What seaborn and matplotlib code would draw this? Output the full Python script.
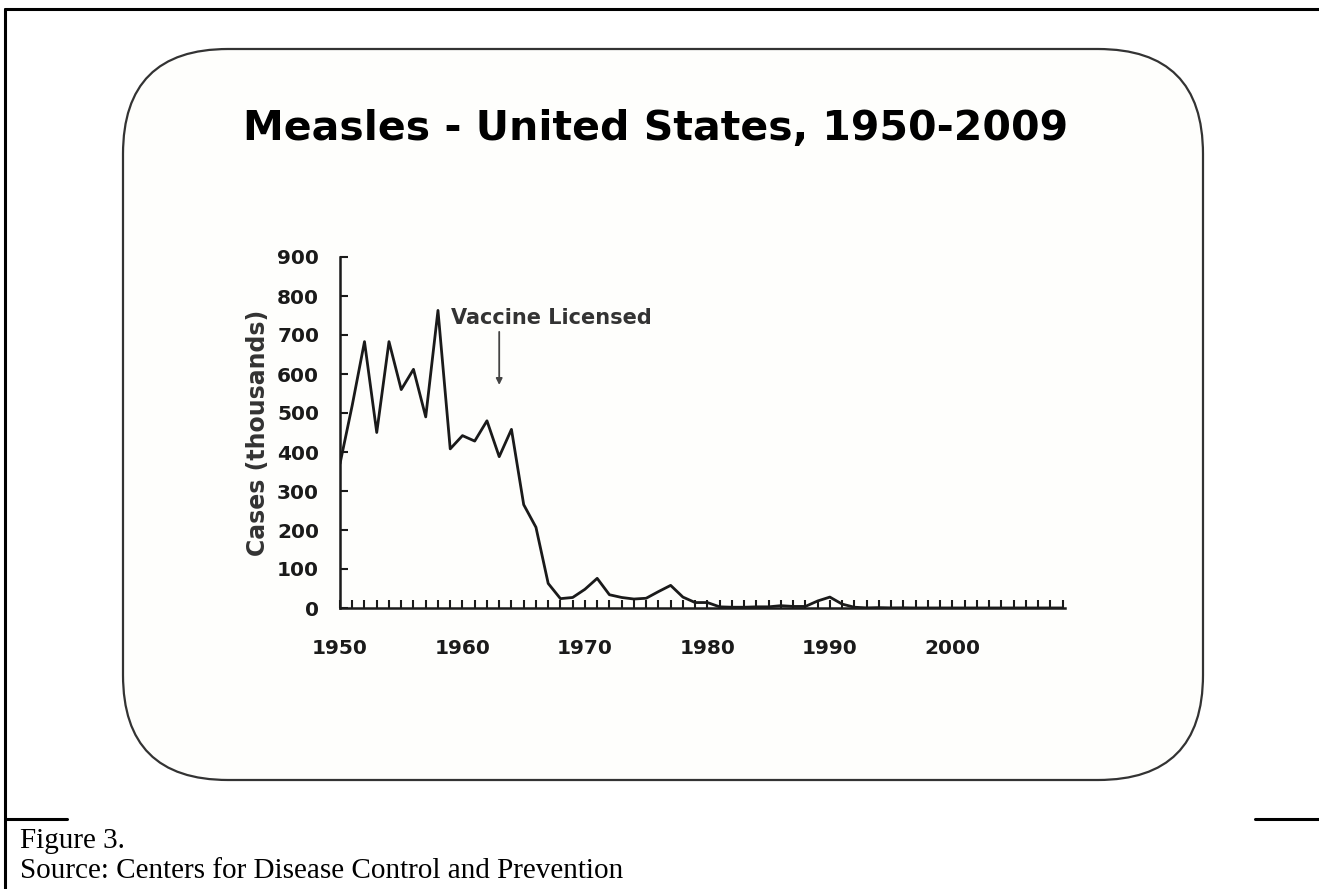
import matplotlib
matplotlib.use("Agg")
import matplotlib.pyplot as plt
import seaborn as sns
import numpy as np
import pandas as pd
from matplotlib.patches import FancyBboxPatch
from matplotlib.lines import Line2D
from matplotlib.ticker import MultipleLocator

# ---- data ----
years = list(range(1950, 2010))
cases_thousands = [
    370, 520, 683, 450, 683, 560, 612, 490, 763, 408,
    442, 428, 480, 388, 458, 265, 207, 63, 24, 27,
    48, 76, 34, 27, 23, 25, 42, 58, 28, 14,
    14, 3, 2, 2, 3, 3, 6, 4, 4, 18,
    28, 10, 2, 0.3, 1, 0.3, 0.5, 0.1, 0.1, 0.1,
    0.1, 0.1, 0.1, 0.1, 0.1, 0.1, 0.1, 0.1, 0.1, 0.1,
]
y_ticks = [0, 100, 200, 300, 400, 500, 600, 700, 800, 900]
x_ticks = [1950, 1960, 1970, 1980, 1990, 2000]
title = "Measles - United States, 1950-2009"
ylabel = "Cases (thousands)"
note = "Vaccine Licensed"
vaccine_year = 1963
caption1 = "Figure 3."
caption2 = "Source: Centers for Disease Control and Prevention"

df = pd.DataFrame({"year": years, "cases": cases_thousands})

sns.set_theme(style="white")
plt.rcParams["font.family"] = ["DejaVu Sans"]

W, H = 1319, 889
fig = plt.figure(figsize=(W / 100, H / 100), dpi=100)
fig.patch.set_facecolor("white")

# background overlay in pixel coordinates
bg = fig.add_axes([0, 0, 1, 1], zorder=0)
bg.set_xlim(0, W)
bg.set_ylim(H, 0)
bg.axis("off")

# outer page frame
lw_frame = 2.2
bg.add_line(Line2D([5, W], [9, 9], color="black", lw=lw_frame))
bg.add_line(Line2D([5, 5], [9, H], color="black", lw=lw_frame))
bg.add_line(Line2D([5, 67], [819, 819], color="black", lw=lw_frame))
bg.add_line(Line2D([1255, W], [819, 819], color="black", lw=lw_frame))

# rounded slide box
box = FancyBboxPatch((123, 49), 1203 - 123, 780 - 49,
                     boxstyle="round,pad=0,rounding_size=105",
                     facecolor="#fefefc", edgecolor="#333333", lw=1.6)
bg.add_patch(box)

# captions
bg.text(20, 848, caption1, family="Liberation Serif", fontsize=21,
        va="baseline", ha="left", color="black")
bg.text(20, 878, caption2, family="Liberation Serif", fontsize=21,
        va="baseline", ha="left", color="black")

# title
bg.text(656, 140, title, fontsize=29.5, fontweight="bold",
        va="baseline", ha="center", color="black")

# main chart axes
ax_l, ax_r, ax_top, ax_bot = 340, 1065, 257, 608
ax = fig.add_axes([ax_l / W, 1 - ax_bot / H, (ax_r - ax_l) / W, (ax_bot - ax_top) / H],
                  zorder=2)
ax.set_facecolor("none")

sns.lineplot(data=df, x="year", y="cases", ax=ax, color="#1a1a1a", lw=2.0)

ax.set_xlim(1950, 2009.2)
ax.set_ylim(0, 900)
ax.set_xticks(x_ticks)
ax.set_xticklabels([str(t) for t in x_ticks])
ax.xaxis.set_minor_locator(MultipleLocator(1))
ax.set_yticks(y_ticks)
ax.set_yticklabels([str(t) for t in y_ticks])

for s in ["top", "right"]:
    ax.spines[s].set_visible(False)
for s in ["left", "bottom"]:
    ax.spines[s].set_color("#1a1a1a")
    ax.spines[s].set_linewidth(1.8)

ax.tick_params(axis="x", which="both", direction="in", length=6, width=1.5,
               color="#1a1a1a", bottom=True)
ax.tick_params(axis="x", which="major", pad=22, labelsize=14.5)
ax.tick_params(axis="y", which="major", direction="in", length=6, width=1.5,
               color="#1a1a1a", left=True, pad=15, labelsize=14.5)
for lab in ax.get_xticklabels() + ax.get_yticklabels():
    lab.set_fontweight("bold")
    lab.set_color("#1a1a1a")

ax.set_xlabel("")
ax.set_ylabel(ylabel, fontsize=17, fontweight="bold", color="#333333", labelpad=5)

# annotation
ax.text(1959.1, 728, note, fontsize=15, fontweight="bold", color="#333333",
        va="baseline", ha="left")
ax.annotate("", xy=(vaccine_year, 572), xytext=(vaccine_year, 708),
            arrowprops=dict(arrowstyle="-|>", color="#444444", lw=1.3,
                            mutation_scale=9, shrinkA=0, shrinkB=0))

fig.savefig("out.png", dpi=100, facecolor="white")
